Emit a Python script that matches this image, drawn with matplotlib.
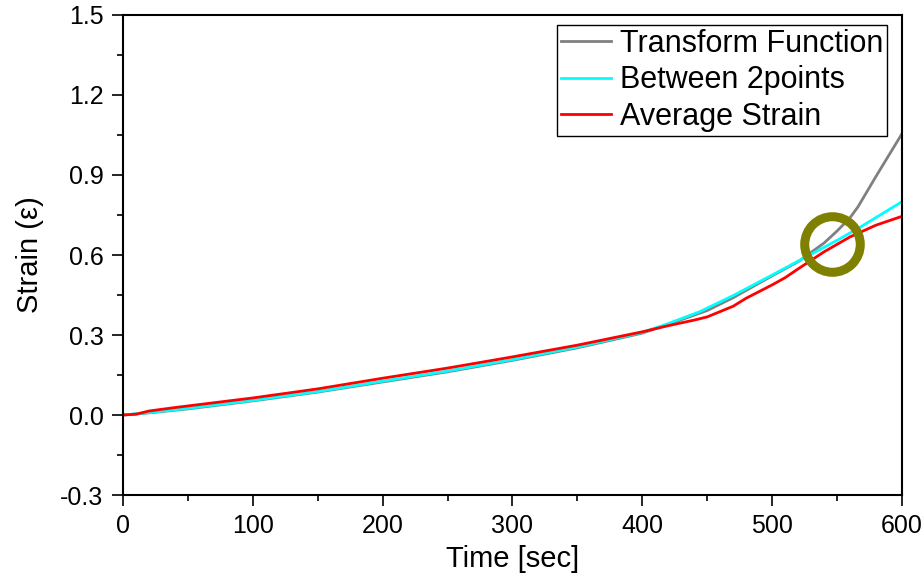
import numpy as np
import matplotlib.pyplot as plt
from matplotlib.ticker import MultipleLocator

plt.rcParams['font.family'] = ['Liberation Sans', 'DejaVu Sans']

# Transform function result
t_transform = [0, 20, 50, 100, 150, 200, 250, 300, 350, 400, 420, 450, 470,
               500, 520, 540, 550, 560, 566, 580, 600]
strain_transform = [0, 0.008, 0.023, 0.053, 0.086, 0.124, 0.162, 0.205, 0.252,
                    0.307, 0.34, 0.392, 0.44, 0.522, 0.575, 0.645, 0.69, 0.74,
                    0.78, 0.895, 1.055]

# Strain measured between 2 points
t_between = [0, 20, 50, 100, 150, 200, 250, 300, 350, 400, 420, 444, 470,
             500, 550, 568, 600]
strain_between = [0, 0.009, 0.025, 0.055, 0.088, 0.127, 0.165, 0.208, 0.255,
                  0.31, 0.343, 0.387, 0.448, 0.525, 0.655, 0.705, 0.80]

# Average strain
t_average = [0, 10, 20, 40, 60, 80, 100, 150, 200, 250, 300, 350, 400, 420,
             440, 450, 460, 470, 480, 500, 510, 520, 540, 560, 580, 600]
strain_average = [0, 0.003, 0.015, 0.028, 0.040, 0.052, 0.064, 0.098, 0.138,
                  0.176, 0.218, 0.262, 0.312, 0.335, 0.356, 0.368, 0.388,
                  0.408, 0.438, 0.488, 0.515, 0.548, 0.612, 0.668, 0.712, 0.745]

# highlighted point where the curves split
mark_t, mark_strain = 546, 0.64

fig = plt.figure(figsize=(9.24, 5.85), dpi=100)
ax = fig.add_axes([0.1331, 0.1538, 0.8431, 0.8206])

ax.plot(t_transform, strain_transform, color='#808080', lw=2, label='Transform Function')
ax.plot(t_between, strain_between, color='#00FFFF', lw=2, label='Between 2points')
ax.plot(t_average, strain_average, color='#FF0000', lw=2, label='Average Strain')

ax.plot(mark_t, mark_strain, 'o', ms=40, mfc='none', mec='#808000', mew=6.5)

ax.set_xlim(0, 600)
ax.set_ylim(-0.3, 1.5)
ax.xaxis.set_major_locator(MultipleLocator(100))
ax.xaxis.set_minor_locator(MultipleLocator(50))
ax.yaxis.set_major_locator(MultipleLocator(0.3))
ax.yaxis.set_minor_locator(MultipleLocator(0.15))
ax.yaxis.set_major_formatter(plt.FuncFormatter(lambda v, p: f'{v:.1f}'))

ax.tick_params(which='major', direction='out', length=8, width=1.2, labelsize=18, pad=6)
ax.tick_params(which='minor', direction='out', length=4, width=1.2)
for s in ax.spines.values():
    s.set_linewidth(1.5)

ax.set_xlabel('Time [sec]', fontsize=21, labelpad=5)
ax.set_ylabel('Strain (ε)', fontsize=21, labelpad=12)

leg = ax.legend(loc='upper right', bbox_to_anchor=(0.981, 0.979), borderaxespad=0,
                fontsize=22, fancybox=False, framealpha=1, edgecolor='black',
                handlelength=1.65, handletextpad=0.3, labelspacing=0.22,
                borderpad=0.12)
leg.get_frame().set_linewidth(1.0)

fig.savefig('out.png', dpi=100)
